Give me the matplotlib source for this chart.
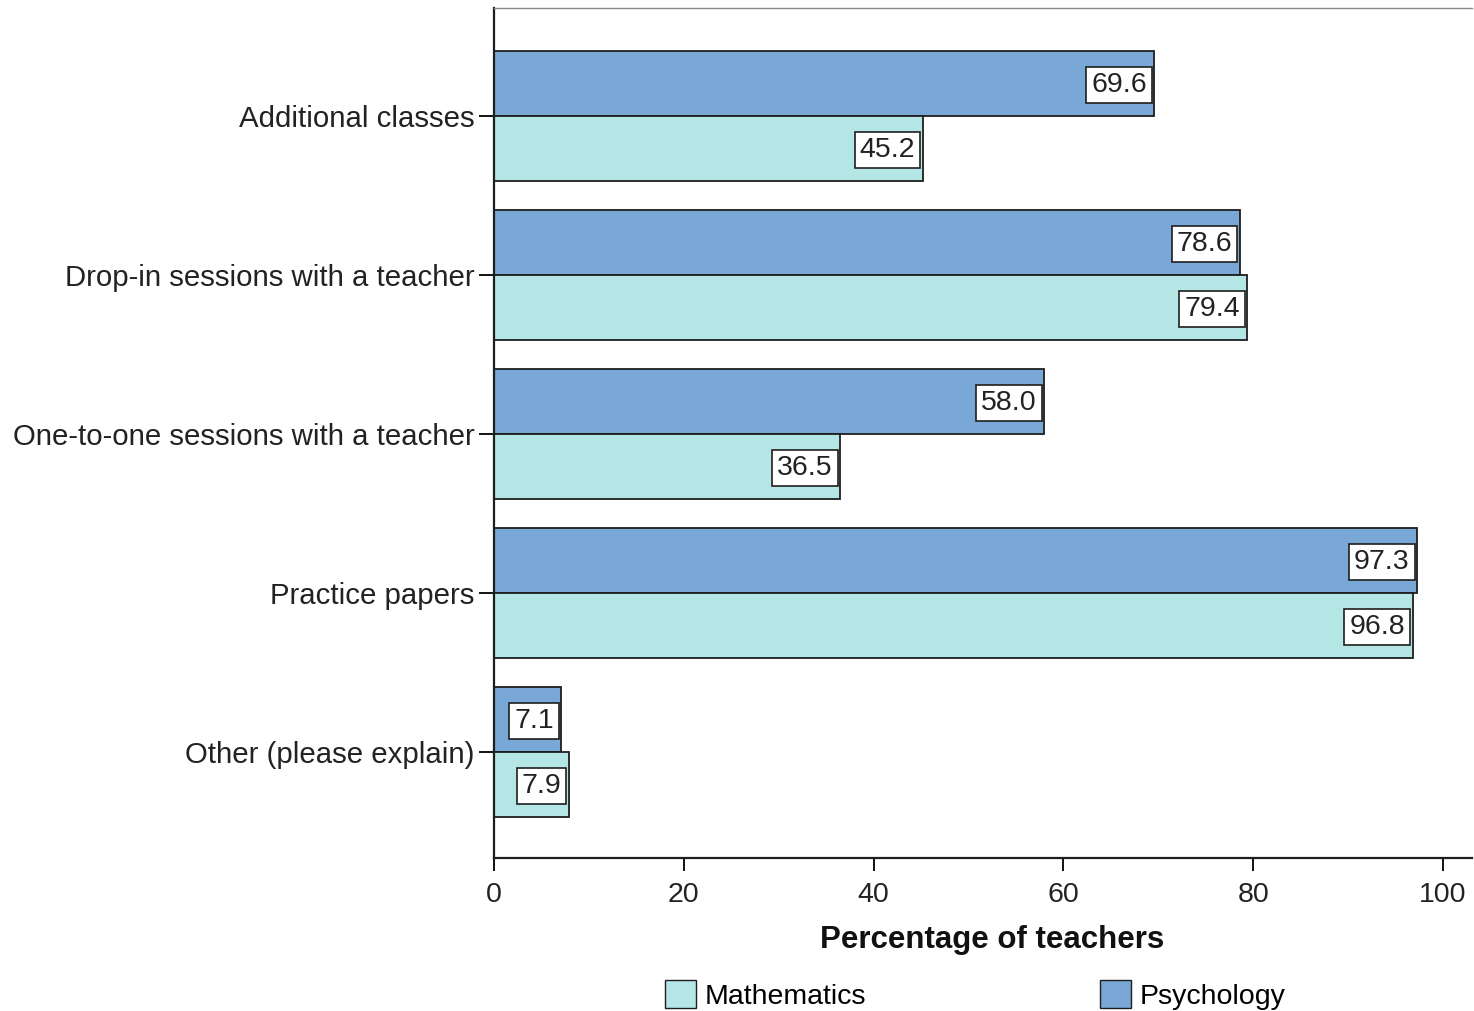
import matplotlib

matplotlib.use("Agg")
import matplotlib.pyplot as plt
import numpy as np
from matplotlib.patches import Patch

categories = [
    "Additional classes",
    "Drop-in sessions with a teacher",
    "One-to-one sessions with a teacher",
    "Practice papers",
    "Other (please explain)",
]
psychology = [69.6, 78.6, 58.0, 97.3, 7.1]
mathematics = [45.2, 79.4, 36.5, 96.8, 7.9]

PSY_COLOR = "#79a8d6"
MATH_COLOR = "#b5e6e6"
EDGE = "#1e1e1e"
FONT = "Liberation Sans"

plt.rcParams["font.family"] = [FONT, "DejaVu Sans"]

fig = plt.figure(figsize=(14.74, 10.11), dpi=100)
ax = fig.add_axes([494 / 1474, 1 - 858 / 1011, 978 / 1474, 850 / 1011])

pos = np.arange(len(categories))
h = 0.41
bars_psy = ax.barh(pos - h / 2, psychology, height=h, color=PSY_COLOR, edgecolor=EDGE, linewidth=1.3)
bars_math = ax.barh(pos + h / 2, mathematics, height=h, color=MATH_COLOR, edgecolor=EDGE, linewidth=1.3)

for bars, vals in ((bars_psy, psychology), (bars_math, mathematics)):
    for bar, v in zip(bars, vals):
        yc = bar.get_y() + bar.get_height() / 2
        ax.annotate(
            f"{v:.1f}",
            xy=(v, yc),
            xytext=(-5.5, -1),
            textcoords="offset points",
            ha="right",
            va="center",
            fontsize=20.5,
            color="#222222",
            bbox=dict(boxstyle="square,pad=0.17", fc="white", ec=EDGE, lw=1.2),
        )

ax.set_xlim(0, 103.06)
ax.set_ylim(4.667, -0.679)
ax.set_yticks(pos)
ax.set_yticklabels(categories, fontsize=21.2, color="#222222")
ax.set_xticks([0, 20, 40, 60, 80, 100])
ax.tick_params(axis="x", labelsize=20.5, labelcolor="#222222", length=9, width=1.3, pad=8)
ax.tick_params(axis="y", length=11, width=1.3, pad=3)

ax.spines["right"].set_visible(False)
ax.spines["top"].set_color("#888888")
ax.spines["top"].set_linewidth(1.0)
for s in ("left", "bottom"):
    ax.spines[s].set_color(EDGE)
    ax.spines[s].set_linewidth(1.6)

ax.set_xlabel("Percentage of teachers", fontsize=22.5, fontweight="bold", color="#111111")
ax.xaxis.set_label_coords(0.509, -0.096)
ax.xaxis.label.set_va("center")

handles = [
    Patch(facecolor=MATH_COLOR, edgecolor=EDGE, label="Mathematics"),
    Patch(facecolor=PSY_COLOR, edgecolor=EDGE, label="Psychology"),
]
fig.legend(
    handles=handles,
    loc="center",
    bbox_to_anchor=(975 / 1474, 1 - 995 / 1011),
    ncol=2,
    frameon=False,
    fontsize=20.5,
    handlelength=1.1,
    handleheight=1.1,
    handletextpad=0.3,
    columnspacing=8.2,
)

fig.savefig("out.png", dpi=100)
